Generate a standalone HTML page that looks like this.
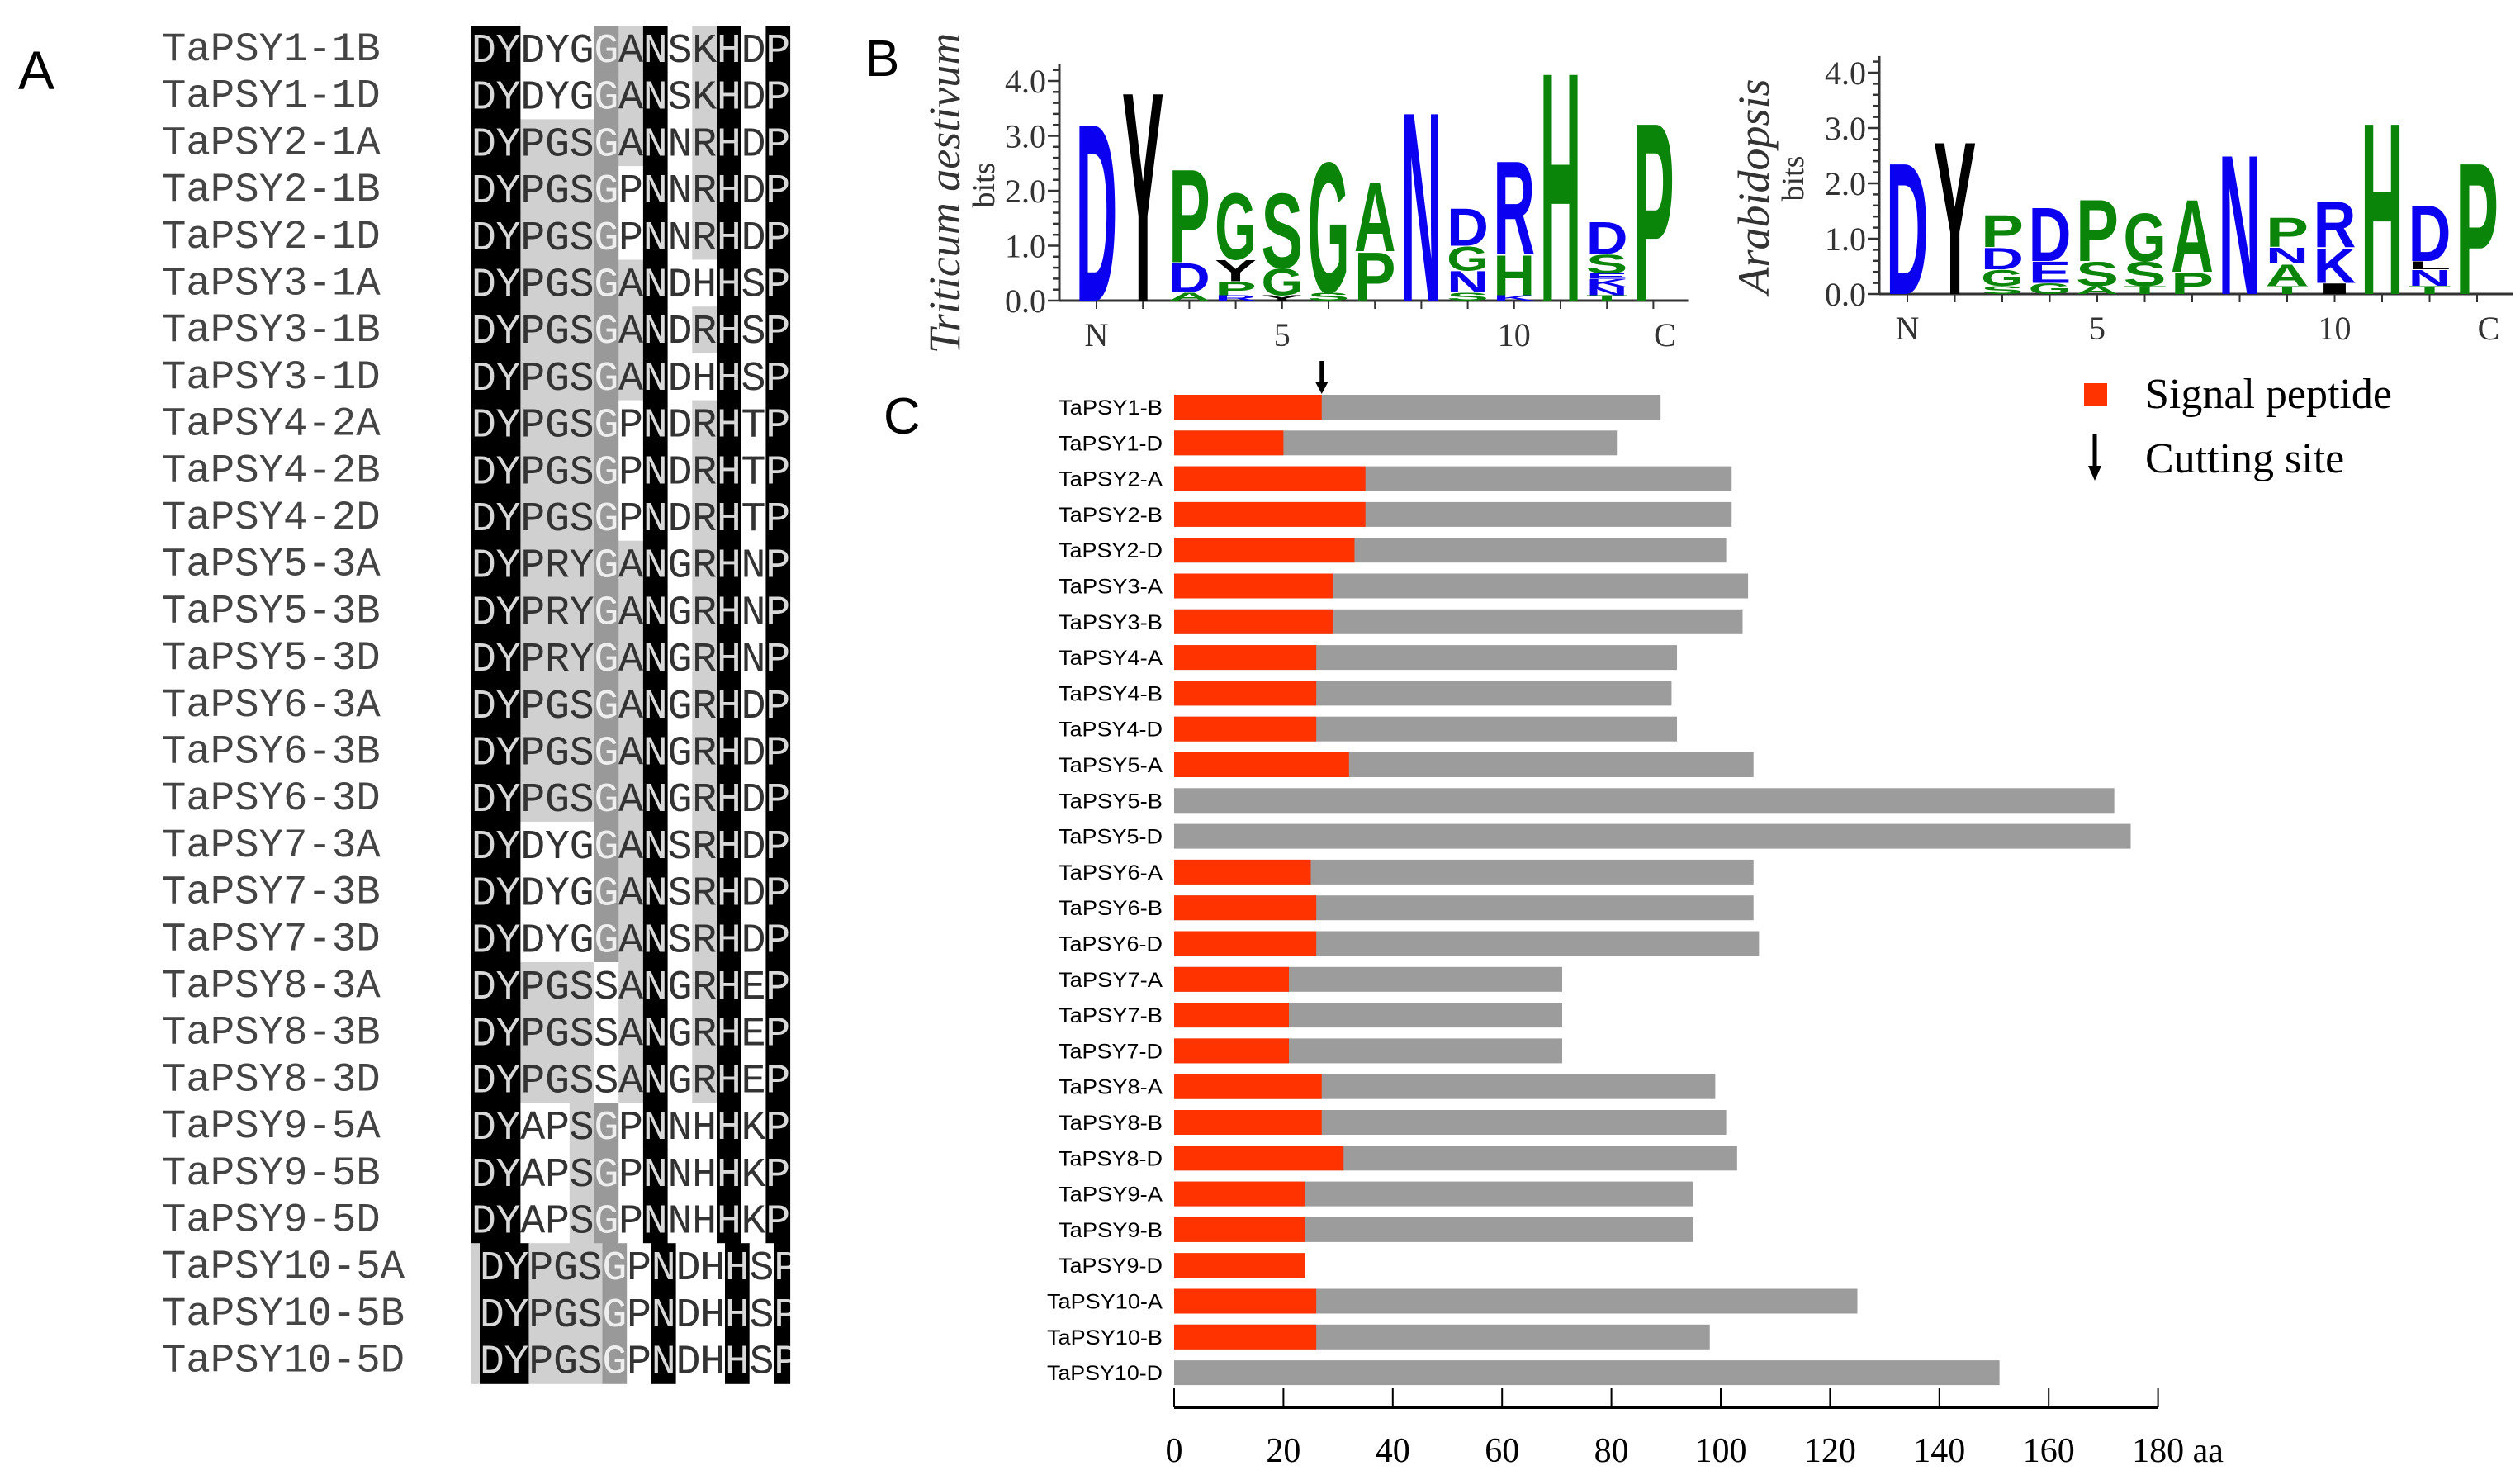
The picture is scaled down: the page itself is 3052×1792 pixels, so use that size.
<!DOCTYPE html>
<html><head><meta charset="utf-8"><style>
html,body{margin:0;padding:0;background:#fff;}
svg{display:block;}
</style></head><body>
<svg id="fig" width="3052" height="1792" viewBox="0 0 3052 1792" xmlns="http://www.w3.org/2000/svg">
<g id="panelA"></g>
<g id="panelB"></g>
<g id="panelC"></g>
</svg>
<script>
// ---------- Panel C data ----------
const proteins = ["TaPSY1-B","TaPSY1-D","TaPSY2-A","TaPSY2-B","TaPSY2-D","TaPSY3-A","TaPSY3-B","TaPSY4-A","TaPSY4-B","TaPSY4-D","TaPSY5-A","TaPSY5-B","TaPSY5-D","TaPSY6-A","TaPSY6-B","TaPSY6-D","TaPSY7-A","TaPSY7-B","TaPSY7-D","TaPSY8-A","TaPSY8-B","TaPSY8-D","TaPSY9-A","TaPSY9-B","TaPSY9-D","TaPSY10-A","TaPSY10-B","TaPSY10-D"];
const signalLength = [27,20,35,35,33,29,29,26,26,26,32,0,0,25,26,26,21,21,21,27,27,31,24,24,24,26,26,0];
const totalLength = [89,81,102,102,101,105,104,92,91,92,106,172,175,106,106,107,71,71,71,99,101,103,95,95,24,125,98,151];
const xTicks = [0,20,40,60,80,100,120,140,160,180];

// ---------- Panel A data ----------
const seqNames = ["TaPSY1-1B","TaPSY1-1D","TaPSY2-1A","TaPSY2-1B","TaPSY2-1D","TaPSY3-1A","TaPSY3-1B","TaPSY3-1D","TaPSY4-2A","TaPSY4-2B","TaPSY4-2D","TaPSY5-3A","TaPSY5-3B","TaPSY5-3D","TaPSY6-3A","TaPSY6-3B","TaPSY6-3D","TaPSY7-3A","TaPSY7-3B","TaPSY7-3D","TaPSY8-3A","TaPSY8-3B","TaPSY8-3D","TaPSY9-5A","TaPSY9-5B","TaPSY9-5D","TaPSY10-5A","TaPSY10-5B","TaPSY10-5D"];
const seqs = ["DYDYGGANSKHDP","DYDYGGANSKHDP","DYPGSGANNRHDP","DYPGSGPNNRHDP","DYPGSGPNNRHDP","DYPGSGANDHHSP","DYPGSGANDRHSP","DYPGSGANDHHSP","DYPGSGPNDRHTP","DYPGSGPNDRHTP","DYPGSGPNDRHTP","DYPRYGANGRHNP","DYPRYGANGRHNP","DYPRYGANGRHNP","DYPGSGANGRHDP","DYPGSGANGRHDP","DYPGSGANGRHDP","DYDYGGANSRHDP","DYDYGGANSRHDP","DYDYGGANSRHDP","DYPGSSANGRHEP","DYPGSSANGRHEP","DYPGSSANGRHEP","DYAPSGPNNHHKP","DYAPSGPNNHHKP","DYAPSGPNNHHKP","DYPGSGPNDHHSP","DYPGSGPNDHHSP","DYPGSGPNDHHSP"];

// ---------- Panel B data ----------
const wheatLogo = [
 [["D",3.33,"b"]],[["Y",3.93,"k"]],
 [["A",0.15,"g"],["D",0.55,"b"],["P",1.75,"g"]],
 [["R",0.1,"b"],["P",0.25,"g"],["Y",0.4,"k"],["G",1.25,"g"]],
 [["Y",0.1,"k"],["G",0.5,"g"],["S",1.4,"g"]],
 [["S",0.15,"g"],["G",2.45,"g"]],
 [["P",0.9,"g"],["A",1.3,"g"]],
 [["N",3.55,"b"]],
 [["S",0.15,"g"],["N",0.4,"b"],["G",0.45,"g"],["D",0.7,"b"]],
 [["K",0.1,"b"],["H",0.75,"g"],["R",1.75,"b"]],
 [["H",4.3,"g"]],
 [["T",0.1,"g"],["N",0.15,"b"],["K",0.15,"b"],["E",0.1,"b"],["S",0.35,"g"],["D",0.6,"b"]],
 [["P",3.35,"g"]]
];
const arabLogo = [
 [["D",2.45,"b"]],[["Y",2.85,"k"]],
 [["S",0.15,"g"],["G",0.3,"g"],["D",0.4,"b"],["P",0.6,"g"]],
 [["G",0.2,"g"],["E",0.4,"b"],["D",1.0,"b"]],
 [["A",0.15,"g"],["S",0.45,"g"],["P",1.15,"g"]],
 [["T",0.15,"g"],["S",0.45,"g"],["G",0.9,"g"]],
 [["P",0.4,"g"],["A",1.35,"g"]],
 [["N",2.6,"b"]],
 [["T",0.15,"g"],["A",0.4,"g"],["N",0.3,"b"],["P",0.55,"g"]],
 [["I",0.2,"k"],["K",0.65,"b"],["R",0.85,"b"]],
 [["H",3.2,"g"]],
 [["T",0.15,"g"],["N",0.3,"b"],["L",0.15,"k"],["D",1.05,"b"]],
 [["P",2.45,"g"]]
];
const bitTicks = [0,1,2,3,4];

const NS="http://www.w3.org/2000/svg";
function mk(tag, attrs, parent, txt){
  const e=document.createElementNS(NS,tag);
  for(const k in attrs) e.setAttribute(k,attrs[k]);
  if(txt!==undefined) e.textContent=txt;
  parent.appendChild(e); return e;
}
const colors={b:"#0b00f0",g:"#0a850a",k:"#000"};

// ================= Panel A =================
(function(){
  const g=document.getElementById('panelA');
  let t=mk('text',{x:22,y:108,'font-family':'Liberation Sans, sans-serif','font-size':66,fill:'#000'},g,'A');
  
  
  const x0=571, cw=29.7, top=31, rh=56.7;
  const black=[0,1,7,10,12];
  seqs.forEach((s,r)=>{
    const y=top+r*rh;
    const nm=mk('text',{x:196,y:y+42,'font-family':'Liberation Mono, monospace','font-size':49,fill:'#444'},g,seqNames[r]);
    
    
    const shift = r>=26 ? 10 : 0;
    for(let c=0;c<13;c++){
      const ch=s[c];
      let bg='#fff', fg='#333';
      if(black.includes(c)){bg='#000';fg='#d8d8d8';}
      else if(c===5){ if(ch==='G'){bg='#999';fg='#eee';} else {bg='#fff';} }
      else if(c>=2&&c<=4){ if(r>=2 && !(r>=23&&r<=25&&c<4) && !(r>=17&&r<=19)) bg='#d0d0d0'; }
      else if(c===6){ if(ch==='A') bg='#d0d0d0'; }
      else if(c===9){ if(ch==='R'||ch==='K') bg='#d0d0d0'; }
      const cx=x0+c*cw+shift;
      const w = (c===12 && shift)? cw-shift+2 : cw+0.5;
      const rc=mk('rect',{x:cx,y:y,width:w,height:rh+0.5,fill:bg},g);
      
      
      const lt=mk('text',{x:cx+cw/2,y:y+44,'text-anchor':'middle','font-family':'Liberation Mono, monospace','font-size':50,fill:fg},g,ch);
      
      
    }
    if(shift){ mk('rect',{x:x0,y:y,width:shift,height:rh+0.5,fill:'#d0d0d0'},g); }
  });
  mk('rect',{x:x0+13*cw,y:0,width:40,height:1700,fill:'#fff'},g);
})();

// ================= Panel B =================
function drawLogo(g, data, ax, y0, perBit, p1, sp, species, spX){
  const axis=mk('g',{},g);
  
  
  mk('line',{x1:ax,y1:y0,x2:ax,y2:y0-4.3*perBit,stroke:'#333','stroke-width':3},axis);
  for(let i=0;i<=21;i++){
    const v=i*0.2; const yy=y0-v*perBit;
    mk('line',{x1:ax-(i%5===0?14:8),y1:yy,x2:ax,y2:yy,stroke:'#333','stroke-width':2.5},axis);
  }
  bitTicks.forEach(v=>{
    const tl=mk('text',{x:ax-16,y:y0-v*perBit+14,'text-anchor':'end','font-family':'Liberation Serif, serif','font-size':40,fill:'#333'},axis,v.toFixed(1));
    
    
  });
  const xEnd=p1+(data.length-1)*sp+sp*0.75;
  mk('line',{x1:ax,y1:y0,x2:xEnd,y2:y0,stroke:'#333','stroke-width':3},g);
  data.forEach((st,i)=>{
    const cx=p1+i*sp;
    mk('line',{x1:cx,y1:y0,x2:cx,y2:y0+10,stroke:'#333','stroke-width':2},g);
    let base=y0;
    st.forEach(([L,h,c])=>{
      const ph=h*perBit;
      const fs=ph/0.72;
      const lt=mk('text',{x:cx-sp*0.45,y:base,'font-family':'Liberation Sans, sans-serif','font-weight':'bold','font-size':fs.toFixed(2),fill:colors[c],textLength:(sp*0.9).toFixed(1),lengthAdjust:'spacingAndGlyphs'},g,L);
      
      
      base-=ph;
    });
  });
  const lab=[["N",p1],["5",p1+4*sp],["10",p1+9*sp],["C",p1+12*sp+14]];
  lab.forEach(([s,x])=>{
    const tl=mk('text',{x:x,y:y0+55,'text-anchor':'middle','font-family':'Liberation Serif, serif','font-size':40,fill:'#333'},g,s);
    
    
  });
  const sp1=mk('text',{transform:`translate(${spX},${y0-130}) rotate(-90)`,'text-anchor':'middle','font-family':'Liberation Serif, serif','font-style':'italic','font-size':54,fill:'#333'},g,species);
  
  
  const bt=mk('text',{transform:`translate(${spX+42},${y0-140}) rotate(-90)`,'text-anchor':'middle','font-family':'Liberation Serif, serif','font-size':38,fill:'#333'},g,'bits');
  
  
}
(function(){
  const g=document.getElementById('panelB');
  const t=mk('text',{x:1048,y:92,'font-family':'Liberation Sans, sans-serif','font-size':62,fill:'#000'},g,'B');
  
  
  const g1=mk('g',{},g);
  
  
  drawLogo(g1, wheatLogo, 1283, 364, 66.5, 1328, 56.2, 'Triticum aestivum', 1162);
  const g2=mk('g',{},g);
  
  
  drawLogo(g2, arabLogo, 2276, 356, 67, 2310, 57.5, 'Arabidopsis', 2142);
})();

// ================= Panel C =================
(function(){
  const g=document.getElementById('panelC');
  const x0=1422, pxPer=6.62, y1=493, step=43.3, bh=30;
  const X=v=>x0+v*pxPer;
  const Y=i=>y1+i*step;
  const t=mk('text',{x:1070,y:525,'font-family':'Liberation Sans, sans-serif','font-size':62,fill:'#000'},g,'C');
  
  
  proteins.forEach((p,i)=>{
    const yc=Y(i);
    const lb=mk('text',{x:1408,y:yc+9,'text-anchor':'end','font-family':'Liberation Sans, sans-serif','font-size':25,fill:'#000',textLength:p.length>8?'140':'126',lengthAdjust:'spacingAndGlyphs'},g,p);
    
    
    const gb=mk('rect',{x:X(0),y:yc-bh/2,width:X(totalLength[i])-X(0),height:bh,fill:'#9c9c9c'},g);
    
    
    if(signalLength[i]>0){
      const rb=mk('rect',{x:X(0),y:yc-bh/2,width:X(signalLength[i])-X(0),height:bh,fill:'#ff3300'},g);
      
      
    }
  });
  const ax=X(signalLength[0]);
  const ar=mk('g',{},g);
  
  
  mk('line',{x1:ax,y1:437,x2:ax,y2:466,stroke:'#000','stroke-width':5},ar);
  mk('polygon',{points:`${ax-8},462 ${ax+8},462 ${ax},477`,fill:'#000'},ar);
  const axisG=mk('g',{},g);
  
  
  const ay=1704;
  mk('line',{x1:X(0),y1:ay,x2:X(180),y2:ay,stroke:'#000','stroke-width':4},axisG);
  xTicks.forEach(v=>{
    mk('line',{x1:X(v),y1:ay,x2:X(v),y2:ay-24,stroke:'#000','stroke-width':2},axisG);
    const tl=mk('text',{x:X(v),y:1770,'text-anchor':'middle','font-family':'Liberation Serif, serif','font-size':42,fill:'#000'},axisG,String(v));
    
    
  });
  const aa=mk('text',{x:X(180)+42,y:1770,'font-family':'Liberation Serif, serif','font-size':42,fill:'#000'},axisG,'aa');
  
  
  const lg=mk('g',{},g);
  
  
  mk('rect',{x:2524,y:464,width:28,height:28,fill:'#ff3300'},lg);
  let l1=mk('text',{x:2598,y:494,'font-family':'Liberation Serif, serif','font-size':52,fill:'#000'},lg,'Signal  peptide');
  
  
  mk('line',{x1:2537,y1:525,x2:2537,y2:568,stroke:'#000','stroke-width':5},lg);
  mk('polygon',{points:'2529,564 2545,564 2537,582',fill:'#000'},lg);
  let l2=mk('text',{x:2598,y:572,'font-family':'Liberation Serif, serif','font-size':52,fill:'#000'},lg,'Cutting  site');
  
  
})();
</script>
</body></html>
